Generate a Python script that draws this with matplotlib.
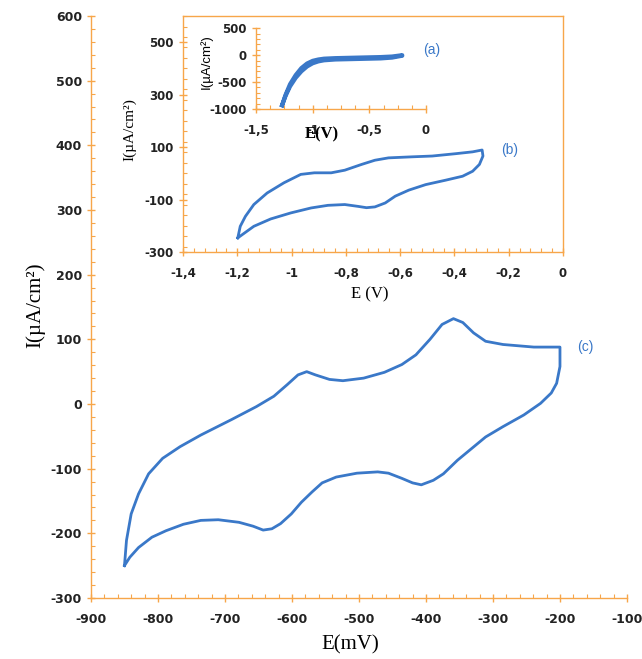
import matplotlib
matplotlib.use('Agg')
import matplotlib.pyplot as plt
from matplotlib.ticker import MultipleLocator, FuncFormatter

plt.rcParams['axes.unicode_minus'] = False

# curve (c): main CV, E in mV, I in uA/cm2
c_E = [-850, -847, -840, -829, -814, -793, -767, -736, -690, -653, -627, -607, -591, -578,
       -565, -544, -524, -493, -462, -436, -415, -394, -376, -359, -345, -329, -311, -285,
       -239, -200, -200, -205, -213, -229, -254, -285, -311, -332, -353, -374, -389, -407,
       -420, -436, -456, -472, -503, -534, -555, -570, -586, -601, -617, -630, -643, -658,
       -679, -710, -736, -762, -788, -809, -829, -842, -850]
c_I = [-250, -211, -170, -139, -108, -84, -66, -48, -24, -4, 12, 30, 45, 50,
       45, 38, 36, 40, 49, 61, 76, 100, 123, 132, 126, 110, 97, 92,
       88, 88, 58, 32, 17, 1, -17, -35, -51, -69, -87, -108, -118, -125,
       -122, -115, -107, -105, -107, -113, -122, -136, -152, -170, -185, -193, -195, -189,
       -183, -179, -180, -186, -196, -206, -222, -237, -250]

# curve (b): inset CV, E in V
b_E = [-1.198, -1.189, -1.170, -1.139, -1.090, -1.028, -0.966, -0.916, -0.854, -0.804,
       -0.742, -0.693, -0.643, -0.556, -0.482, -0.395, -0.333, -0.298, -0.295, -0.308,
       -0.333, -0.370, -0.432, -0.506, -0.568, -0.618, -0.655, -0.693, -0.724, -0.755,
       -0.804, -0.866, -0.928, -1.003, -1.077, -1.139, -1.198]
b_I = [-246, -202, -164, -119, -75, -36, -4, 2, 2, 12,
       34, 50, 59, 63, 66, 75, 82, 89, 66, 34,
       8, -11, -26, -43, -64, -87, -113, -128, -131, -126,
       -119, -122, -132, -151, -174, -202, -246]

# curve (a): blank, narrow loop
a_E = [-1.27, -1.24, -1.20, -1.15, -1.10, -1.05, -1.00, -0.95, -0.90, -0.80, -0.70, -0.60,
       -0.50, -0.40, -0.30, -0.21, -0.21, -0.30, -0.40, -0.50, -0.60, -0.70, -0.80, -0.90,
       -0.95, -1.00, -1.05, -1.10, -1.15, -1.20, -1.24, -1.27]
a_I = [-930, -740, -540, -370, -240, -155, -105, -80, -65, -55, -50, -45,
       -40, -35, -25, 0, -10, -45, -60, -65, -70, -75, -80, -95,
       -115, -150, -210, -300, -420, -580, -760, -930]

blue = '#3a78c8'
orange = '#f7a64a'

fig = plt.figure(figsize=(6.42, 6.59), dpi=100)

def style_axis(ax, spines, fs=9):
    for s in ['left', 'right', 'top', 'bottom']:
        if s in spines:
            ax.spines[s].set_color(orange)
            ax.spines[s].set_linewidth(1.0)
        else:
            ax.spines[s].set_visible(False)
    ax.tick_params(which='major', direction='inout', length=6, width=1, color=orange,
                   labelsize=fs, labelcolor='#222222')
    ax.tick_params(which='minor', direction='in', length=3, width=0.8, color=orange)
    for lab in ax.get_xticklabels() + ax.get_yticklabels():
        lab.set_fontweight('bold')

comma = FuncFormatter(lambda v, p: ('%g' % round(v, 2)).replace('.', ','))

# main axes
ax = fig.add_axes([0.1417, 0.0926, 0.8349, 0.8831])
ax.plot(c_E, c_I, color=blue, lw=2)
ax.set_xlim(-900, -100)
ax.set_ylim(-300, 600)
ax.xaxis.set_major_locator(MultipleLocator(100))
ax.xaxis.set_minor_locator(MultipleLocator(20))
ax.yaxis.set_major_locator(MultipleLocator(100))
ax.yaxis.set_minor_locator(MultipleLocator(20))
ax.tick_params(axis='x', pad=8)
style_axis(ax, ['left', 'bottom'])
ax.text(585 / 642, 1 - 347 / 659, '(c)', transform=fig.transFigure, color=blue,
        fontsize=10, family='Liberation Sans', ha='center', va='center')
fig.text(35 / 642, 1 - 305 / 659, 'I(µA/cm²)', rotation=90, family='Liberation Serif',
         fontsize=15, ha='center', va='center')
fig.text(350 / 642, 1 - 645 / 659, 'E(mV)', family='Liberation Serif', fontsize=15,
         ha='center', va='center')

# inset (b)
axb = fig.add_axes([0.285, 0.6176, 0.592, 0.3581])
axb.set_facecolor('white')
axb.plot(b_E, b_I, color=blue, lw=2)
axb.set_xlim(-1.4, 0)
axb.set_ylim(-300, 600)
axb.set_xticks([-1.4, -1.2, -1.0, -0.8, -0.6, -0.4, -0.2, 0])
axb.set_yticks([-300, -100, 100, 300, 500])
axb.xaxis.set_minor_locator(MultipleLocator(0.04))
axb.yaxis.set_minor_locator(MultipleLocator(40))
axb.xaxis.set_major_formatter(comma)
axb.tick_params(axis='x', pad=8)
style_axis(axb, ['left', 'right', 'top', 'bottom'], fs=8.5)
axb.tick_params(right=False, top=False, which='both')
fig.text(510 / 642, 1 - 150 / 659, '(b)', color=blue, fontsize=10, family='Liberation Sans',
         ha='center', va='center')
fig.text(370 / 642, 1 - 294 / 659, 'E (V)', family='Liberation Serif', fontsize=12,
         ha='center', va='center')
fig.text(130 / 642, 1 - 130 / 659, 'I(µA/cm²)', rotation=90, family='Liberation Serif',
         fontsize=11, ha='center', va='center')

# inset (a)
axa = fig.add_axes([0.3988, 0.8346, 0.2648, 0.1225])
axa.patch.set_alpha(0)
axa.plot(a_E, a_I, color=blue, lw=3)
axa.set_xlim(-1.5, 0)
axa.set_ylim(-1000, 500)
axa.set_xticks([-1.5, -1.0, -0.5, 0])
axa.set_yticks([-1000, -500, 0, 500])
axa.xaxis.set_minor_locator(MultipleLocator(0.125))
axa.yaxis.set_minor_locator(MultipleLocator(100))
axa.xaxis.set_major_formatter(comma)
axa.tick_params(axis='x', pad=8)
style_axis(axa, ['left', 'bottom'], fs=8.5)
fig.text(432 / 642, 1 - 50 / 659, '(a)', color=blue, fontsize=10, family='Liberation Sans',
         ha='center', va='center')
fig.text(322 / 642, 1 - 134 / 659, 'E(V)', family='Liberation Serif', fontsize=12,
         fontweight='bold', ha='center', va='center')
fig.text(206 / 642, 1 - 62 / 659, 'I(µA/cm²)', rotation=90, family='Liberation Sans',
         fontsize=9.5, ha='center', va='center')

fig.savefig('out.png', dpi=100)
